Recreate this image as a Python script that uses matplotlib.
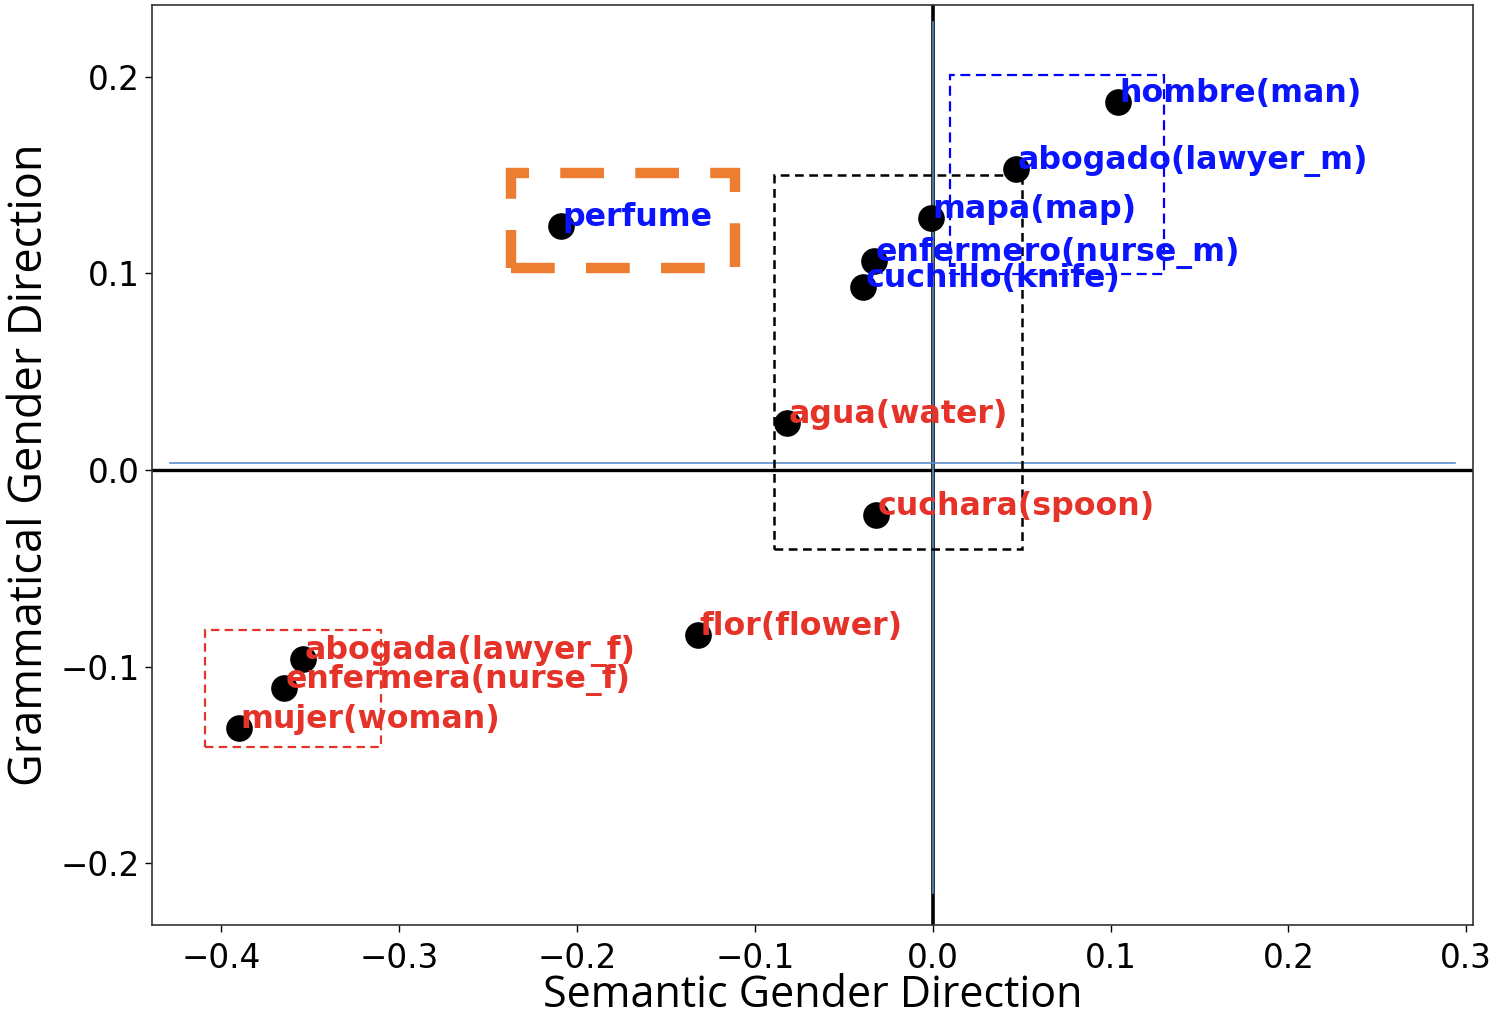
import matplotlib
matplotlib.use("Agg")
import matplotlib.pyplot as plt
from matplotlib.patches import Rectangle

# word points: (semantic, grammatical)
blue_words = ["hombre(man)", "abogado(lawyer_m)", "mapa(map)",
              "enfermero(nurse_m)", "cuchillo(knife)", "perfume"]
blue_x = [0.104, 0.047, -0.001, -0.033, -0.039, -0.209]
blue_y = [0.187, 0.153, 0.128, 0.106, 0.093, 0.124]

red_words = ["agua(water)", "cuchara(spoon)", "flor(flower)",
             "abogada(lawyer_f)", "enfermera(nurse_f)", "mujer(woman)"]
red_x = [-0.082, -0.032, -0.132, -0.354, -0.365, -0.390]
red_y = [0.024, -0.023, -0.084, -0.096, -0.111, -0.131]

# highlight boxes: (x0, x1, y0, y1)
box_blue = (0.010, 0.130, 0.0996, 0.2008)
box_orange = (-0.237, -0.111, 0.1027, 0.151)
box_black = (-0.0894, 0.050, -0.040, 0.150)
box_red = (-0.409, -0.310, -0.1408, -0.0813)

x_ticks = [-0.4, -0.3, -0.2, -0.1, 0.0, 0.1, 0.2, 0.3]
y_ticks = [-0.2, -0.1, 0.0, 0.1, 0.2]

BLUE = "#0a14ff"
RED = "#e63329"
ORANGE = "#ed7d31"
LINE_BLUE = "#5b8fc9"

fig = plt.figure(figsize=(14.94, 10.17), dpi=100)
ax = fig.add_axes([0.1017, 0.0905, 0.8845, 0.9046])

ax.axhline(0, color="black", lw=2.4, zorder=1)
ax.axvline(0, color="black", lw=2.6, zorder=1)
ax.plot([-0.429, 0.2936], [0.0036, 0.0036], color=LINE_BLUE, lw=1.2, zorder=2)
ax.plot([0.0, 0.0], [-0.215, 0.228], color=LINE_BLUE, lw=1.2, zorder=2)


def draw_box(b, color, lw, dashes):
    x0, x1, y0, y1 = b
    ax.add_patch(Rectangle((x0, y0), x1 - x0, y1 - y0, fill=False,
                           edgecolor=color, lw=lw,
                           linestyle=(0, dashes), zorder=3))


draw_box(box_blue, "blue", 1.6, (4.5, 2.5))
draw_box(box_black, "black", 1.8, (3.5, 2.2))
draw_box(box_red, RED, 1.6, (3.8, 2.4))
draw_box(box_orange, ORANGE, 7.5, (4.2, 3.0))

ax.scatter(blue_x + red_x, blue_y + red_y, s=330, color="black", zorder=4)

for w, x, y in zip(blue_words, blue_x, blue_y):
    ax.text(x + 0.001, y, w, color=BLUE, fontsize=22.8, fontweight="bold",
            ha="left", va="baseline", zorder=5)
for w, x, y in zip(red_words, red_x, red_y):
    ax.text(x + 0.001, y, w, color=RED, fontsize=22.8, fontweight="bold",
            ha="left", va="baseline", zorder=5)

ax.set_xlim(-0.439, 0.304)
ax.set_ylim(-0.2313, 0.2364)
ax.set_xticks(x_ticks)
ax.set_yticks(y_ticks)
ax.tick_params(labelsize=23.5, length=5, width=1)
ax.tick_params(axis="x", pad=7)
for s in ax.spines.values():
    s.set_color("#333333")
    s.set_linewidth(1.2)

ax.set_xlabel("Semantic Gender Direction", fontsize=31, family="Open Sans",
              labelpad=-1)
ax.set_ylabel("Grammatical Gender Direction", fontsize=32.5, family="Open Sans",
              labelpad=6)

fig.savefig("out.png", dpi=100)
